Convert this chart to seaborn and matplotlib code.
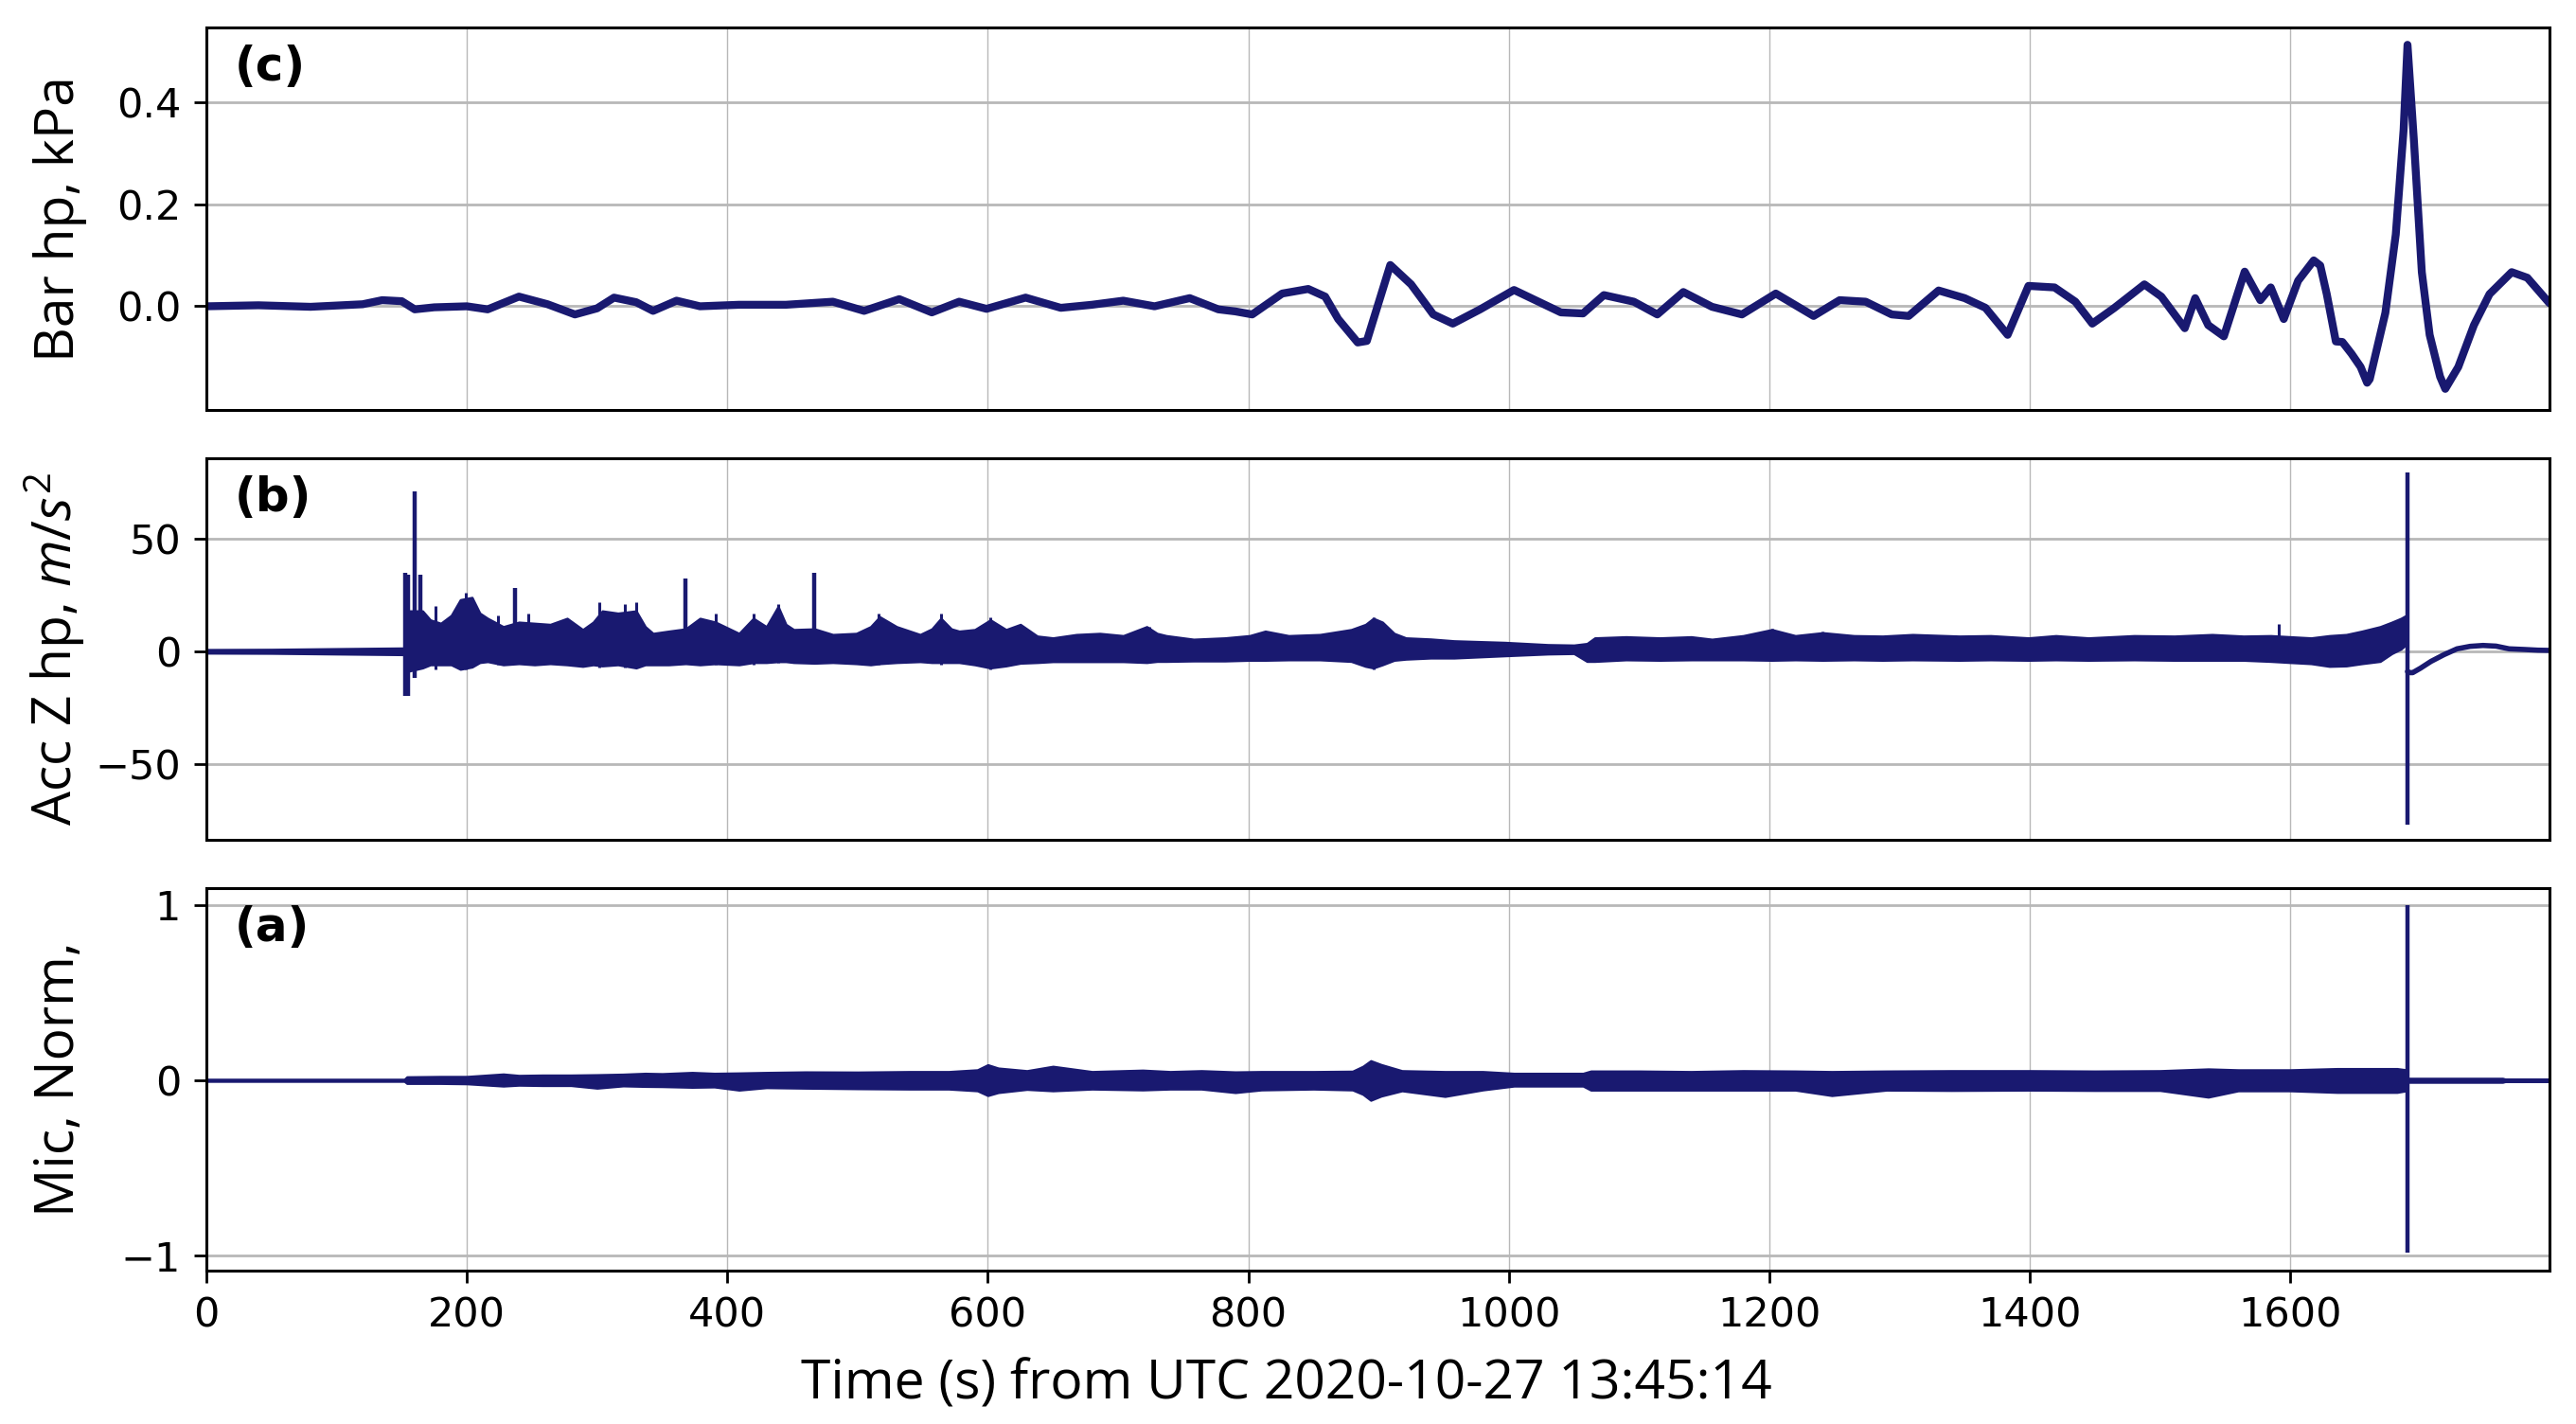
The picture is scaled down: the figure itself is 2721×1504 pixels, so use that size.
import numpy as np
import pandas as pd
import matplotlib
matplotlib.use("Agg")
import matplotlib.pyplot as plt
import seaborn as sns

# ---------------- data ----------------
# Panel (c): barometer, high-passed (kPa)
bar_t = [0, 40, 80, 120, 135, 150, 160, 175, 200, 216, 240, 262, 283, 300, 313, 330, 343, 361, 379,
         409, 445, 481, 505, 532, 557, 578, 599, 629, 656, 680, 704, 728, 755, 777, 790, 803, 826, 846,
         859, 869, 884, 891, 909, 925, 942, 957, 978, 1004, 1040, 1057, 1073, 1096, 1114, 1134, 1156,
         1179, 1205, 1234, 1254, 1274, 1294, 1307, 1330, 1350, 1366, 1383, 1399, 1419, 1435, 1448,
         1465, 1488, 1501, 1519, 1527, 1537, 1549, 1565, 1577, 1585, 1595, 1606, 1618, 1623, 1628,
         1635, 1640, 1647, 1654, 1659, 1661, 1673, 1681, 1687, 1690, 1695, 1701, 1707, 1715, 1719,
         1729, 1741, 1753, 1770, 1782, 1799]
bar_v = [0.0, 0.002, -0.001, 0.004, 0.012, 0.010, -0.006, -0.002, 0.0, -0.006, 0.019, 0.004, -0.016,
         -0.004, 0.017, 0.008, -0.009, 0.011, 0.0, 0.003, 0.003, 0.009, -0.009, 0.014, -0.012, 0.009,
         -0.005, 0.017, -0.003, 0.003, 0.011, 0.0, 0.016, -0.006, -0.010, -0.016, 0.025, 0.034, 0.019,
         -0.025, -0.071, -0.068, 0.081, 0.043, -0.016, -0.034, -0.006, 0.032, -0.012, -0.014, 0.022,
         0.009, -0.016, 0.028, -0.001, -0.016, 0.025, -0.019, 0.012, 0.009, -0.016, -0.019, 0.031,
         0.016, -0.003, -0.056, 0.040, 0.037, 0.009, -0.034, -0.003, 0.043, 0.019, -0.043, 0.016,
         -0.037, -0.059, 0.068, 0.012, 0.037, -0.025, 0.050, 0.090, 0.080, 0.024, -0.069, -0.070,
         -0.093, -0.119, -0.150, -0.143, -0.013, 0.141, 0.346, 0.513, 0.322, 0.067, -0.056, -0.138,
         -0.162, -0.119, -0.037, 0.024, 0.067, 0.056, 0.006]

# Panel (b): vertical acceleration, high-passed (m/s^2) -- envelope of the trace
acc_t = [0, 50, 100, 152, 154, 166, 172, 180, 188, 195, 204, 210, 216, 228, 240, 252, 264, 277, 289,
         297, 304, 316, 330, 337, 343, 355, 368, 379, 391, 409, 420, 430, 439, 445, 451, 467, 481, 499,
         510, 517, 530, 548, 557, 564, 572, 578, 590, 602, 614, 625, 638, 650, 668, 686, 704, 722, 730,
         737, 758, 782, 801, 813, 831, 855, 879, 890, 896, 903, 912, 921, 940, 958, 997, 1030, 1050,
         1060, 1066, 1090, 1116, 1140, 1156, 1180, 1202, 1220, 1241, 1265, 1287, 1310, 1346, 1370,
         1399, 1420, 1445, 1480, 1511, 1540, 1564, 1585, 1600, 1616, 1630, 1643, 1655, 1669, 1678,
         1685, 1689]
acc_upper = [0.8, 0.9, 1.2, 1.5, 18, 18, 14, 12.5, 16, 23, 24, 17, 14.7, 11, 13, 12.5, 12, 14.7, 9.7,
             13, 18, 17, 18, 11, 8, 9, 10, 14.7, 13, 8, 14.7, 11, 20, 12, 9.7, 10, 7.5, 8, 11, 15.4, 11,
             7.5, 10, 14.7, 10, 9, 9.7, 14, 9.7, 12, 6.8, 6, 7.5, 8, 7, 11, 8, 7, 5.4, 6, 7, 9, 7, 7.5,
             9.7, 12, 14.7, 13, 8, 6, 5.5, 4.7, 4, 3, 2.8, 3.5, 6, 6.5, 6, 6.5, 5.4, 7, 9.7, 7, 8.3, 7,
             6.8, 7.5, 6.8, 7, 6, 7, 6, 7, 6.8, 7.5, 6.8, 7, 6.5, 6, 7, 7.5, 9, 11, 13, 14.7, 16]
acc_lower = [-0.8, -0.9, -1.2, -1.5, -9, -7.4, -6, -6, -6, -8, -7, -5, -4.6, -6, -5.5, -6, -5.5, -6,
             -6.7, -6, -6.5, -6, -7.4, -6, -6, -6, -5.5, -6, -5.5, -6, -5, -5, -4.6, -4.6, -5, -5.3, -5,
             -5.5, -6, -5.5, -5, -4.6, -5, -5, -5, -5, -6, -7.4, -6.5, -5.3, -5, -4.6, -4.6, -4.6, -4.6,
             -5, -4.5, -4.5, -4.3, -4.3, -4, -4, -3.8, -3.8, -4.5, -6.7, -7.4, -6, -4, -3.5, -3, -3, -2,
             -1.2, -1, -4.5, -4.5, -3.8, -4, -3.8, -3.8, -3.8, -4, -3.8, -4, -3.8, -4, -3.8, -4, -3.8, -4,
             -3.8, -4, -3.8, -4, -4, -4, -4.5, -5, -5.5, -6.7, -6.5, -5.5, -4.5, -1, 1, 3]
# big isolated excursions of the accelerometer trace
acc_spike_t = [153, 155, 160, 164, 237, 368, 467, 1690]
acc_spike_bottom = [-20, -20, -12, -8, -5, -5, -4, -77]
acc_spike_top = [35, 34, 71, 34, 28, 32.5, 35, 79.5]
# smaller spikes riding on the noise band
acc_small_t = [176, 199, 224, 247, 302, 321, 330, 391, 420, 439, 516, 564, 602, 724, 896, 1202, 1241,
               1591]
acc_small_top = [20, 26, 16, 17, 22, 21, 22, 17, 17, 21, 17, 17, 15, 11, 15, 10, 9, 12]
acc_small_bottom = [-8, -8, -6, -6, -7, -7, -7, -6, -6, -5, -6, -6, -8, -5, -8, -4, -4, -4]
acc_tail_t = [1690, 1692, 1694, 1700, 1708, 1718, 1728, 1738, 1748, 1758, 1768, 1780, 1790, 1799]
acc_tail_v = [-9, -9.5, -9.5, -7.5, -4.5, -1.5, 1.1, 2.2, 2.6, 2.3, 1.1, 0.8, 0.5, 0.4]

# Panel (a): microphone, normalised -- envelope of the trace
mic_t = [0, 152, 154, 180, 200, 228, 240, 258, 280, 300, 320, 337, 350, 373, 390, 409, 430, 460, 500,
         540, 570, 592, 600, 608, 630, 650, 680, 719, 740, 764, 790, 810, 850, 880, 888, 894, 902, 918,
         951, 980, 1004, 1030, 1057, 1063, 1100, 1140, 1180, 1220, 1248, 1290, 1340, 1400, 1450, 1500,
         1537, 1560, 1600, 1636, 1660, 1682, 1689]
mic_upper = [0.006, 0.006, 0.02, 0.022, 0.022, 0.036, 0.028, 0.03, 0.03, 0.032, 0.035, 0.04, 0.038,
             0.045, 0.04, 0.042, 0.045, 0.048, 0.047, 0.05, 0.05, 0.06, 0.089, 0.07, 0.055, 0.08, 0.05,
             0.058, 0.05, 0.055, 0.048, 0.05, 0.05, 0.052, 0.08, 0.112, 0.09, 0.055, 0.05, 0.05, 0.04,
             0.04, 0.04, 0.053, 0.053, 0.05, 0.055, 0.053, 0.05, 0.053, 0.055, 0.055, 0.053, 0.055,
             0.065, 0.06, 0.06, 0.067, 0.067, 0.067, 0.06]
mic_lower = [-0.006, -0.006, -0.018, -0.018, -0.02, -0.033, -0.028, -0.03, -0.03, -0.045, -0.032,
             -0.035, -0.036, -0.04, -0.038, -0.056, -0.042, -0.045, -0.048, -0.05, -0.05, -0.06, -0.087,
             -0.07, -0.052, -0.06, -0.05, -0.055, -0.05, -0.05, -0.07, -0.055, -0.05, -0.055, -0.08,
             -0.114, -0.09, -0.06, -0.092, -0.055, -0.033, -0.033, -0.033, -0.056, -0.056, -0.056,
             -0.056, -0.056, -0.087, -0.056, -0.058, -0.056, -0.058, -0.058, -0.096, -0.06, -0.06,
             -0.069, -0.069, -0.069, -0.06]
mic_spike_t = [1690]
mic_spike_bottom = [-0.98]
mic_spike_top = [1.0]
mic_tail_t = [1691, 1763, 1765, 1799]
mic_tail_upper = [0.013, 0.013, 0.009, 0.009]
mic_tail_lower = [-0.013, -0.013, -0.009, -0.009]

x_ticks = [0, 200, 400, 600, 800, 1000, 1200, 1400, 1600]
bar_ticks = [0.0, 0.2, 0.4]
acc_ticks = [-50, 0, 50]
mic_ticks = [-1, 0, 1]
panel_labels = ["(c)", "(b)", "(a)"]
y_labels = ["Bar hp, kPa", "Acc Z hp, $m/s^2$", "Mic, Norm,"]
x_label = "Time (s) from UTC 2020-10-27 13:45:14"

# ---------------- style ----------------
sns.set_theme(style="whitegrid")
plt.rcParams.update({
    "font.family": ["Open Sans", "DejaVu Sans"],
    "mathtext.fontset": "custom",
    "mathtext.rm": "Open Sans",
    "mathtext.it": "Open Sans:italic",
    "axes.edgecolor": "black",
    "axes.linewidth": 1.1,
    "grid.color": "#b8b8b8",
    "xtick.color": "black",
    "ytick.color": "black",
    "axes.labelcolor": "black",
    "text.color": "black",
})
LINE = "#191970"
TICK_FAMILY = "DejaVu Sans"
TICK_SIZE = 15.5

fig, axes = plt.subplots(3, 1, figsize=(13.605, 7.52), dpi=200, sharex=True)
fig.subplots_adjust(left=0.0801, right=0.9897, top=0.9807, bottom=0.1077, hspace=0.126)
ax_c, ax_b, ax_a = axes

# (c) barometer
df_bar = pd.DataFrame({"t": bar_t, "v": bar_v})
sns.lineplot(data=df_bar, x="t", y="v", ax=ax_c, color=LINE, lw=3.0, sort=False)
ax_c.set_ylim(-0.203, 0.547)
ax_c.set_yticks(bar_ticks)
ax_c.set_yticklabels(["0.0", "0.2", "0.4"])

# (b) accelerometer
ax_b.fill_between(acc_t, acc_lower, acc_upper, color=LINE, lw=0.8, edgecolor=LINE)
ax_b.vlines(acc_spike_t, acc_spike_bottom, acc_spike_top, color=LINE, lw=1.6)
ax_b.vlines(acc_small_t, acc_small_bottom, acc_small_top, color=LINE, lw=1.1)
df_acc_tail = pd.DataFrame({"t": acc_tail_t, "v": acc_tail_v})
sns.lineplot(data=df_acc_tail, x="t", y="v", ax=ax_b, color=LINE, lw=2.0, sort=False)
ax_b.set_ylim(-84, 86)
ax_b.set_yticks(acc_ticks)

# (a) microphone
ax_a.fill_between(mic_t, mic_lower, mic_upper, color=LINE, lw=0.8, edgecolor=LINE)
ax_a.vlines(mic_spike_t, mic_spike_bottom, mic_spike_top, color=LINE, lw=1.6)
ax_a.fill_between(mic_tail_t, mic_tail_lower, mic_tail_upper, color=LINE, lw=0.6, edgecolor=LINE)
ax_a.set_ylim(-1.085, 1.094)
ax_a.set_yticks(mic_ticks)

for ax, pl, yl in zip(axes, panel_labels, y_labels):
    ax.set_xlim(0, 1799)
    ax.set_xticks(x_ticks)
    ax.grid(True)
    ax.xaxis.grid(True, lw=0.5, color="#b8b8b8")
    ax.yaxis.grid(True, lw=1.0, color="#b8b8b8")
    ax.set_axisbelow(True)
    for s in ax.spines.values():
        s.set_visible(True)
        s.set_color("black")
        s.set_linewidth(1.1)
    ax.tick_params(axis="y", which="major", left=True, length=4.7, width=1.0, pad=5,
                   labelsize=TICK_SIZE, labelfontfamily=TICK_FAMILY)
    ax.set_ylabel(yl, fontsize=20.5, labelpad=3)
    ax.set_xlabel("")
    ax.text(0.012, 0.955, pl, transform=ax.transAxes, fontsize=18, fontweight="bold",
            family="DejaVu Sans", va="top", ha="left")

for ax in (ax_c, ax_b):
    ax.tick_params(axis="x", bottom=False, labelbottom=False)
ax_a.tick_params(axis="x", bottom=True, length=4.7, width=1.0, pad=5,
                 labelsize=TICK_SIZE, labelfontfamily=TICK_FAMILY)
fig.text(0.4995, 0.0274, x_label, fontsize=20.5, ha="center", va="center")
fig.align_ylabels(axes)

fig.savefig("out.png", dpi=200, facecolor="white")
